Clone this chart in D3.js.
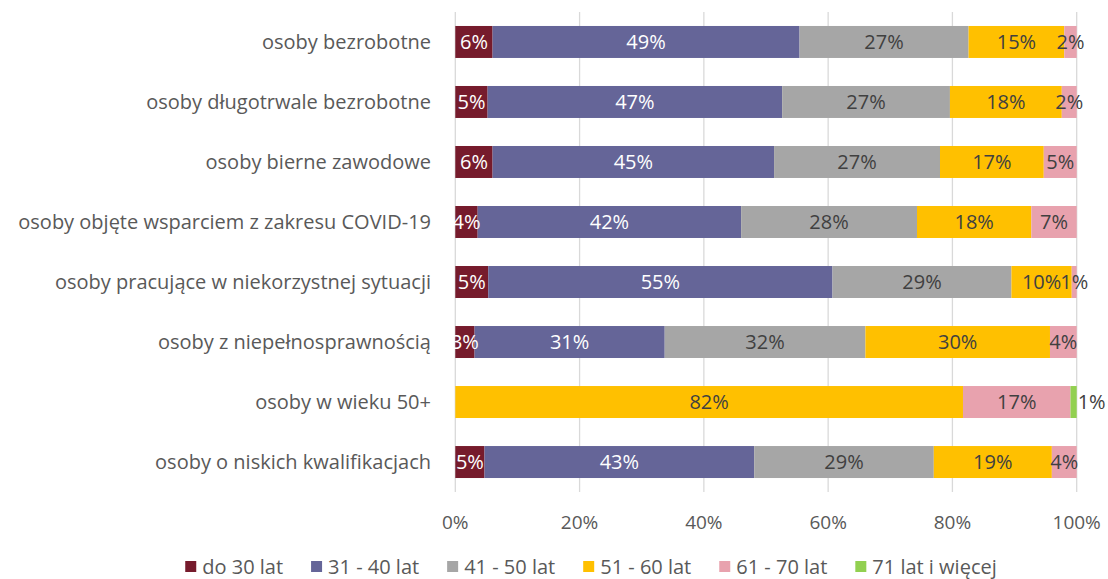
<!DOCTYPE html>
<html lang="pl">
  <head>
    <meta charset="utf-8" />
    <script src="https://d3js.org/d3.v7.min.js"></script>
    <style>
      body { margin: 0; background: #fff; }
      text { font-family: "Open Sans", "Noto Sans", sans-serif; }
    </style>
  </head>
  <body>
    <script>
      const w = 1108;
      const h = 579;

      const categories = [
        "osoby bezrobotne",
        "osoby długotrwale bezrobotne",
        "osoby bierne zawodowe",
        "osoby objęte wsparciem z zakresu COVID-19",
        "osoby pracujące w niekorzystnej sytuacji",
        "osoby z niepełnosprawnością",
        "osoby w wieku 50+",
        "osoby o niskich kwalifikacjach"
      ];
      const seriesNames = ["do 30 lat", "31 - 40 lat", "41 - 50 lat", "51 - 60 lat", "61 - 70 lat", "71 lat i więcej"];
      const colors = ["#761b2c", "#656598", "#a6a6a6", "#ffc000", "#e8a2ae", "#92d050"];

      // shares in % per category, one array per age group
      const do30 = [6.0, 5.2, 6.0, 3.6, 5.3, 3.1, 0, 4.7];
      const w31_40 = [49.4, 47.4, 45.3, 42.4, 55.4, 30.6, 0, 43.4];
      const w41_50 = [27.2, 27.0, 26.7, 28.3, 28.8, 32.3, 0, 28.9];
      const w51_60 = [15.4, 18.0, 16.7, 18.4, 9.7, 29.7, 81.7, 19.0];
      const w61_70 = [2.0, 2.4, 5.3, 7.3, 0.8, 4.3, 17.3, 4.0];
      const w71 = [0, 0, 0, 0, 0, 0, 1.0, 0];
      const xTicks = [0, 20, 40, 60, 80, 100];

      const allSeries = [do30, w31_40, w41_50, w51_60, w61_70, w71];
      const rows = categories.map((c, i) => {
        const r = { cat: c };
        seriesNames.forEach((s, j) => (r[s] = allSeries[j][i]));
        return r;
      });
      const stacked = d3.stack().keys(seriesNames)(rows);

      const svg = d3.select("body").append("svg").attr("width", w).attr("height", h);

      const x = d3.scaleLinear().domain([0, 100]).range([455.3, 1076.7]);
      const y = d3.scaleBand().domain(categories).range([12, 492]).paddingInner(0.467).paddingOuter(0.233);

      // gridlines
      svg.append("g")
        .selectAll("line")
        .data(xTicks)
        .join("line")
        .attr("x1", (d) => x(d))
        .attr("x2", (d) => x(d))
        .attr("y1", 12)
        .attr("y2", 492)
        .attr("stroke", "#d9d9d9")
        .attr("stroke-width", 1.3);

      // bars
      const groups = svg.append("g")
        .selectAll("g")
        .data(stacked)
        .join("g")
        .attr("fill", (d, i) => colors[i]);

      groups.selectAll("rect")
        .data((d) => d)
        .join("rect")
        .attr("x", (d) => x(d[0]))
        .attr("y", (d) => y(d.data.cat))
        .attr("width", (d) => x(d[1]) - x(d[0]))
        .attr("height", y.bandwidth());

      // labels
      stacked.forEach((s, si) => {
        svg.append("g")
          .selectAll("text")
          .data(s.filter((d) => d[1] - d[0] > 0))
          .join("text")
          .attr("x", (d) => (si === 5 ? x(d[1]) + 1 : (x(d[0]) + x(d[1])) / 2))
          .attr("y", (d) => y(d.data.cat) + y.bandwidth() / 2)
          .attr("dy", "0.36em")
          .attr("text-anchor", si === 5 ? "start" : "middle")
          .attr("font-size", "20px")
          .attr("fill", si < 2 ? "#ffffff" : "#404040")
          .text((d) => Math.round(d[1] - d[0]) + "%");
      });

      // category labels
      svg.append("g")
        .selectAll("text")
        .data(categories)
        .join("text")
        .attr("x", 431)
        .attr("y", (d) => y(d) + y.bandwidth() / 2)
        .attr("dy", "0.36em")
        .attr("text-anchor", "end")
        .attr("font-size", "20px")
        .attr("fill", "#595959")
        .text((d) => d);

      // x tick labels
      svg.append("g")
        .selectAll("text")
        .data(xTicks)
        .join("text")
        .attr("x", (d) => x(d))
        .attr("y", 522)
        .attr("dy", "0.36em")
        .attr("text-anchor", "middle")
        .attr("font-size", "19px")
        .attr("fill", "#595959")
        .text((d) => d + "%");

      // legend
      const legend = svg.append("g");
      let lx = 0;
      seriesNames.forEach((s, i) => {
        const item = legend.append("g").attr("transform", `translate(${lx},0)`);
        item.append("rect").attr("x", 0).attr("y", -6).attr("width", 11).attr("height", 11).attr("fill", colors[i]);
        const t = item.append("text")
          .attr("x", 17)
          .attr("y", 0)
          .attr("dy", "0.36em")
          .attr("font-size", "20px")
          .attr("fill", "#595959")
          .text(s);
        lx += 17 + t.node().getComputedTextLength() + 28;
      });
      const lw = lx - 28;
      legend.attr("transform", `translate(${591 - lw / 2},567)`);
    </script>
  </body>
</html>
